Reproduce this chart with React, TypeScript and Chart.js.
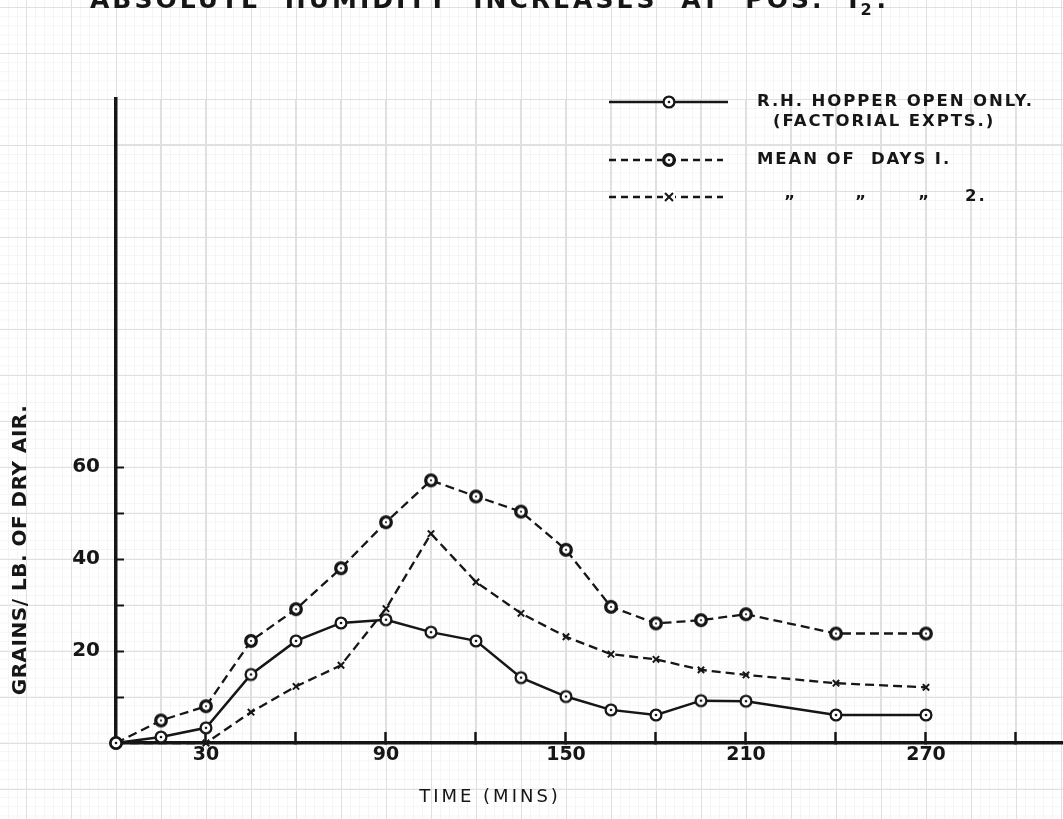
import React, { useEffect, useRef } from 'react';
import { Chart, registerables } from 'chart.js';

Chart.register(...registerables);

// ---------- data ----------
const timeMins = [0, 15, 30, 45, 60, 75, 90, 105, 120, 135, 150, 165, 180, 195, 210, 240, 270];
const hopperOpenOnly = [0, 1.3, 3.3, 14.9, 22.2, 26.1, 26.8, 24.1, 22.2, 14.2, 10.1, 7.2, 6.1, 9.2, 9.1, 6.1, 6.1];
const meanDays1 = [0, 4.9, 8.0, 22.2, 29.1, 38.0, 48.0, 57.1, 53.6, 50.3, 42.0, 29.6, 26.0, 26.7, 28.0, 23.8, 23.8];
const day2Times = [0, 30, 45, 60, 75, 90, 105, 120, 135, 150, 165, 180, 195, 210, 240, 270];
const meanDays2 = [0, 0, 6.7, 12.3, 16.9, 29.2, 45.5, 35.0, 28.2, 23.1, 19.3, 18.2, 15.9, 14.8, 13.0, 12.1];

const xLabelValues = [30, 90, 150, 210, 270];
const xTickMarkValues = [30, 60, 90, 120, 150, 180, 210, 240, 270, 300];
const yLabelValues = [20, 40, 60];
const yTickMarkValues = [10, 20, 30, 40, 50, 60];

const seriesLabels = ['R.H. HOPPER OPEN ONLY. (FACTORIAL EXPTS.)', 'MEAN OF DAYS I.', 'MEAN OF DAYS 2.'];
const titleMain = 'ABSOLUTE HUMIDITY INCREASES AT POS. I';
const titleSub = '2';
const xTitle = 'TIME (MINS)';
const yTitle = 'GRAINS/ LB. OF DRY AIR.';
const legendRow1 = ['R.H. HOPPER OPEN ONLY.', '(FACTORIAL EXPTS.)'];
const legendRow2 = 'MEAN OF  DAYS I.';
const legendRow3 = ['\u201D', '\u201D', '\u201D', '2.'];

const INK = '#161616';
const GRID = '#e0e0e0';
const MINOR = '#f5f5f5';
const FONT = '"DejaVu Sans"';

function makeRing(r: number, lw: number, dot: number): HTMLCanvasElement {
  const size = Math.ceil((r + lw) * 2 + 2);
  const c = document.createElement('canvas');
  c.width = size;
  c.height = size;
  const g = c.getContext('2d')!;
  const m = size / 2;
  g.beginPath();
  g.arc(m, m, r, 0, Math.PI * 2);
  g.fillStyle = '#ffffff';
  g.fill();
  g.lineWidth = lw;
  g.strokeStyle = INK;
  g.stroke();
  g.beginPath();
  g.arc(m, m, dot, 0, Math.PI * 2);
  g.fillStyle = INK;
  g.fill();
  return c;
}

const paperText = {
  id: 'paperText',
  afterDraw(chart: any) {
    const ctx = chart.ctx as CanvasRenderingContext2D;
    const ring0 = chart.data.datasets[0].pointStyle;
    const ring1 = chart.data.datasets[1].pointStyle;
    ctx.save();
    ctx.fillStyle = INK;
    ctx.strokeStyle = INK;

    // main title (cut off at the top of the sheet)
    ctx.font = `bold 25px ${FONT}`;
    (ctx as any).letterSpacing = '3px';
    (ctx as any).wordSpacing = '12px';
    ctx.textAlign = 'left';
    ctx.textBaseline = 'alphabetic';
    ctx.fillText(titleMain, 90, 8);
    const w = ctx.measureText(titleMain).width;
    ctx.font = `bold 16px ${FONT}`;
    ctx.fillText(titleSub, 90 + w, 15);
    const w2 = ctx.measureText(titleSub).width;
    ctx.font = `bold 25px ${FONT}`;
    ctx.fillText('.', 90 + w + w2 + 2, 8);
    (ctx as any).wordSpacing = '0px';

    // x axis title
    ctx.font = `18px ${FONT}`;
    (ctx as any).letterSpacing = '3px';
    ctx.textAlign = 'center';
    ctx.textBaseline = 'middle';
    ctx.fillText(xTitle, 490, 797);

    // y axis title
    ctx.save();
    ctx.translate(21, 550);
    ctx.rotate(-Math.PI / 2);
    ctx.font = `bold 20px ${FONT}`;
    (ctx as any).letterSpacing = '0.5px';
    ctx.fillText(yTitle, 0, 0);
    ctx.restore();

    // legend
    const lx0 = 609;
    const lx1 = 728;
    const mx = 669;
    ctx.lineWidth = 2.5;
    ctx.setLineDash([]);
    ctx.beginPath();
    ctx.moveTo(lx0, 102);
    ctx.lineTo(lx1, 102);
    ctx.stroke();
    if (ring0) ctx.drawImage(ring0, mx - ring0.width / 2, 102 - ring0.height / 2);
    ctx.setLineDash([7, 5]);
    ctx.beginPath();
    ctx.moveTo(lx0, 160);
    ctx.lineTo(723, 160);
    ctx.stroke();
    if (ring1) ctx.drawImage(ring1, mx - ring1.width / 2, 160 - ring1.height / 2);
    ctx.beginPath();
    ctx.moveTo(lx0, 197);
    ctx.lineTo(723, 197);
    ctx.stroke();
    ctx.setLineDash([]);
    ctx.fillStyle = '#ffffff';
    ctx.fillRect(mx - 6, 191, 12, 12);
    ctx.fillStyle = INK;
    ctx.lineWidth = 2;
    ctx.beginPath();
    ctx.moveTo(mx - 4, 193);
    ctx.lineTo(mx + 4, 201);
    ctx.moveTo(mx + 4, 193);
    ctx.lineTo(mx - 4, 201);
    ctx.stroke();

    ctx.font = `bold 16.5px ${FONT}`;
    (ctx as any).letterSpacing = '1.9px';
    ctx.textAlign = 'left';
    ctx.textBaseline = 'middle';
    ctx.fillText(legendRow1[0], 757, 102);
    ctx.fillText(legendRow1[1], 773, 122);
    ctx.fillText(legendRow2, 757, 160);
    ctx.fillText(legendRow3[0], 784, 203);
    ctx.fillText(legendRow3[1], 855, 203);
    ctx.fillText(legendRow3[2], 918, 203);
    ctx.fillText(legendRow3[3], 965, 197);
    ctx.restore();
  },
};

export default function App() {
  const ref = useRef<HTMLCanvasElement | null>(null);

  useEffect(() => {
    if (!ref.current) return;
    const ringSolid = makeRing(5.4, 2.3, 1.3);
    const ringDashed = makeRing(5.3, 3.3, 1.1);

    const chart = new Chart(ref.current, {
      type: 'line',
      data: {
        datasets: [
          {
            label: seriesLabels[0],
            data: timeMins.map((t, i) => ({ x: t, y: hopperOpenOnly[i] })),
            borderColor: INK,
            borderWidth: 2.5,
            pointStyle: ringSolid as any,
            pointRadius: 6,
            tension: 0,
            clip: false as any,
          },
          {
            label: seriesLabels[1],
            data: timeMins.map((t, i) => ({ x: t, y: meanDays1[i] })),
            borderColor: INK,
            borderWidth: 2.3,
            borderDash: [9, 5],
            pointStyle: ringDashed as any,
            pointRadius: 6,
            tension: 0,
            clip: false as any,
          },
          {
            label: seriesLabels[2],
            data: day2Times.map((t, i) => ({ x: t, y: meanDays2[i] })),
            borderColor: INK,
            borderWidth: 2.3,
            borderDash: [9, 5],
            pointStyle: 'crossRot',
            pointRadius: 4.5,
            pointBorderWidth: 2,
            pointBorderColor: INK,
            tension: 0,
            clip: false as any,
          },
        ],
      },
      options: {
        responsive: false,
        animation: false,
        devicePixelRatio: 1,
        layout: { autoPadding: false, padding: { top: 99, left: 0, right: 0, bottom: 0 } },
        plugins: {
          legend: { display: false },
          title: { display: false },
          tooltip: { enabled: false },
        },
        scales: {
          x: {
            type: 'linear',
            min: 0,
            max: 315.67,
            afterFit: (s: any) => {
              s.height = 76;
              s.paddingLeft = 0;
              s.paddingRight = 0;
            },
            ticks: {
              stepSize: 15,
              autoSkip: false,
              maxRotation: 0,
              padding: 12,
              color: INK,
              font: { family: 'DejaVu Sans', size: 19, weight: 'bold' },
              callback: (v: any) => (xLabelValues.includes(Number(v)) ? String(v) : ''),
            },
            grid: {
              color: GRID,
              lineWidth: 1,
              tickLength: -11,
              tickWidth: 2.5,
              tickColor: (c: any) =>
                c.tick && xTickMarkValues.includes(c.tick.value) ? INK : 'rgba(0,0,0,0)',
            },
            border: { color: INK, width: 3.5 },
          },
          y: {
            type: 'linear',
            min: 0,
            max: 140,
            afterFit: (s: any) => {
              s.width = 116;
            },
            ticks: {
              stepSize: 10,
              autoSkip: false,
              padding: 24,
              color: INK,
              font: { family: 'DejaVu Sans', size: 20, weight: 'bold' },
              callback: (v: any) => (yLabelValues.includes(Number(v)) ? String(v) : ''),
            },
            grid: {
              color: GRID,
              lineWidth: 1,
              tickLength: -8,
              tickWidth: 2,
              tickColor: (c: any) =>
                c.tick && yTickMarkValues.includes(c.tick.value) ? INK : 'rgba(0,0,0,0)',
            },
            border: { color: INK, width: 3.5 },
          },
        },
      },
      plugins: [paperText],
    });
    return () => chart.destroy();
  }, []);

  return (
    <div
      style={{
        position: 'absolute',
        left: 0,
        top: 0,
        width: 1063,
        height: 819,
        overflow: 'hidden',
        backgroundColor: '#ffffff',
        backgroundImage: [
          `linear-gradient(to right, ${GRID} 0, ${GRID} 1px, transparent 1px)`,
          `linear-gradient(to bottom, ${GRID} 0, ${GRID} 1px, transparent 1px)`,
          `linear-gradient(to right, ${MINOR} 0, ${MINOR} 1px, transparent 1px)`,
          `linear-gradient(to bottom, ${MINOR} 0, ${MINOR} 1px, transparent 1px)`,
        ].join(', '),
        backgroundSize: '45px 100%, 100% 46px, 9px 100%, 100% 9.2px',
        backgroundPosition: '26px 0, 0 7px, 8px 0, 0 7px',
      }}
    >
      <canvas ref={ref} width={1063} height={819} style={{ display: 'block' }} />
    </div>
  );
}
